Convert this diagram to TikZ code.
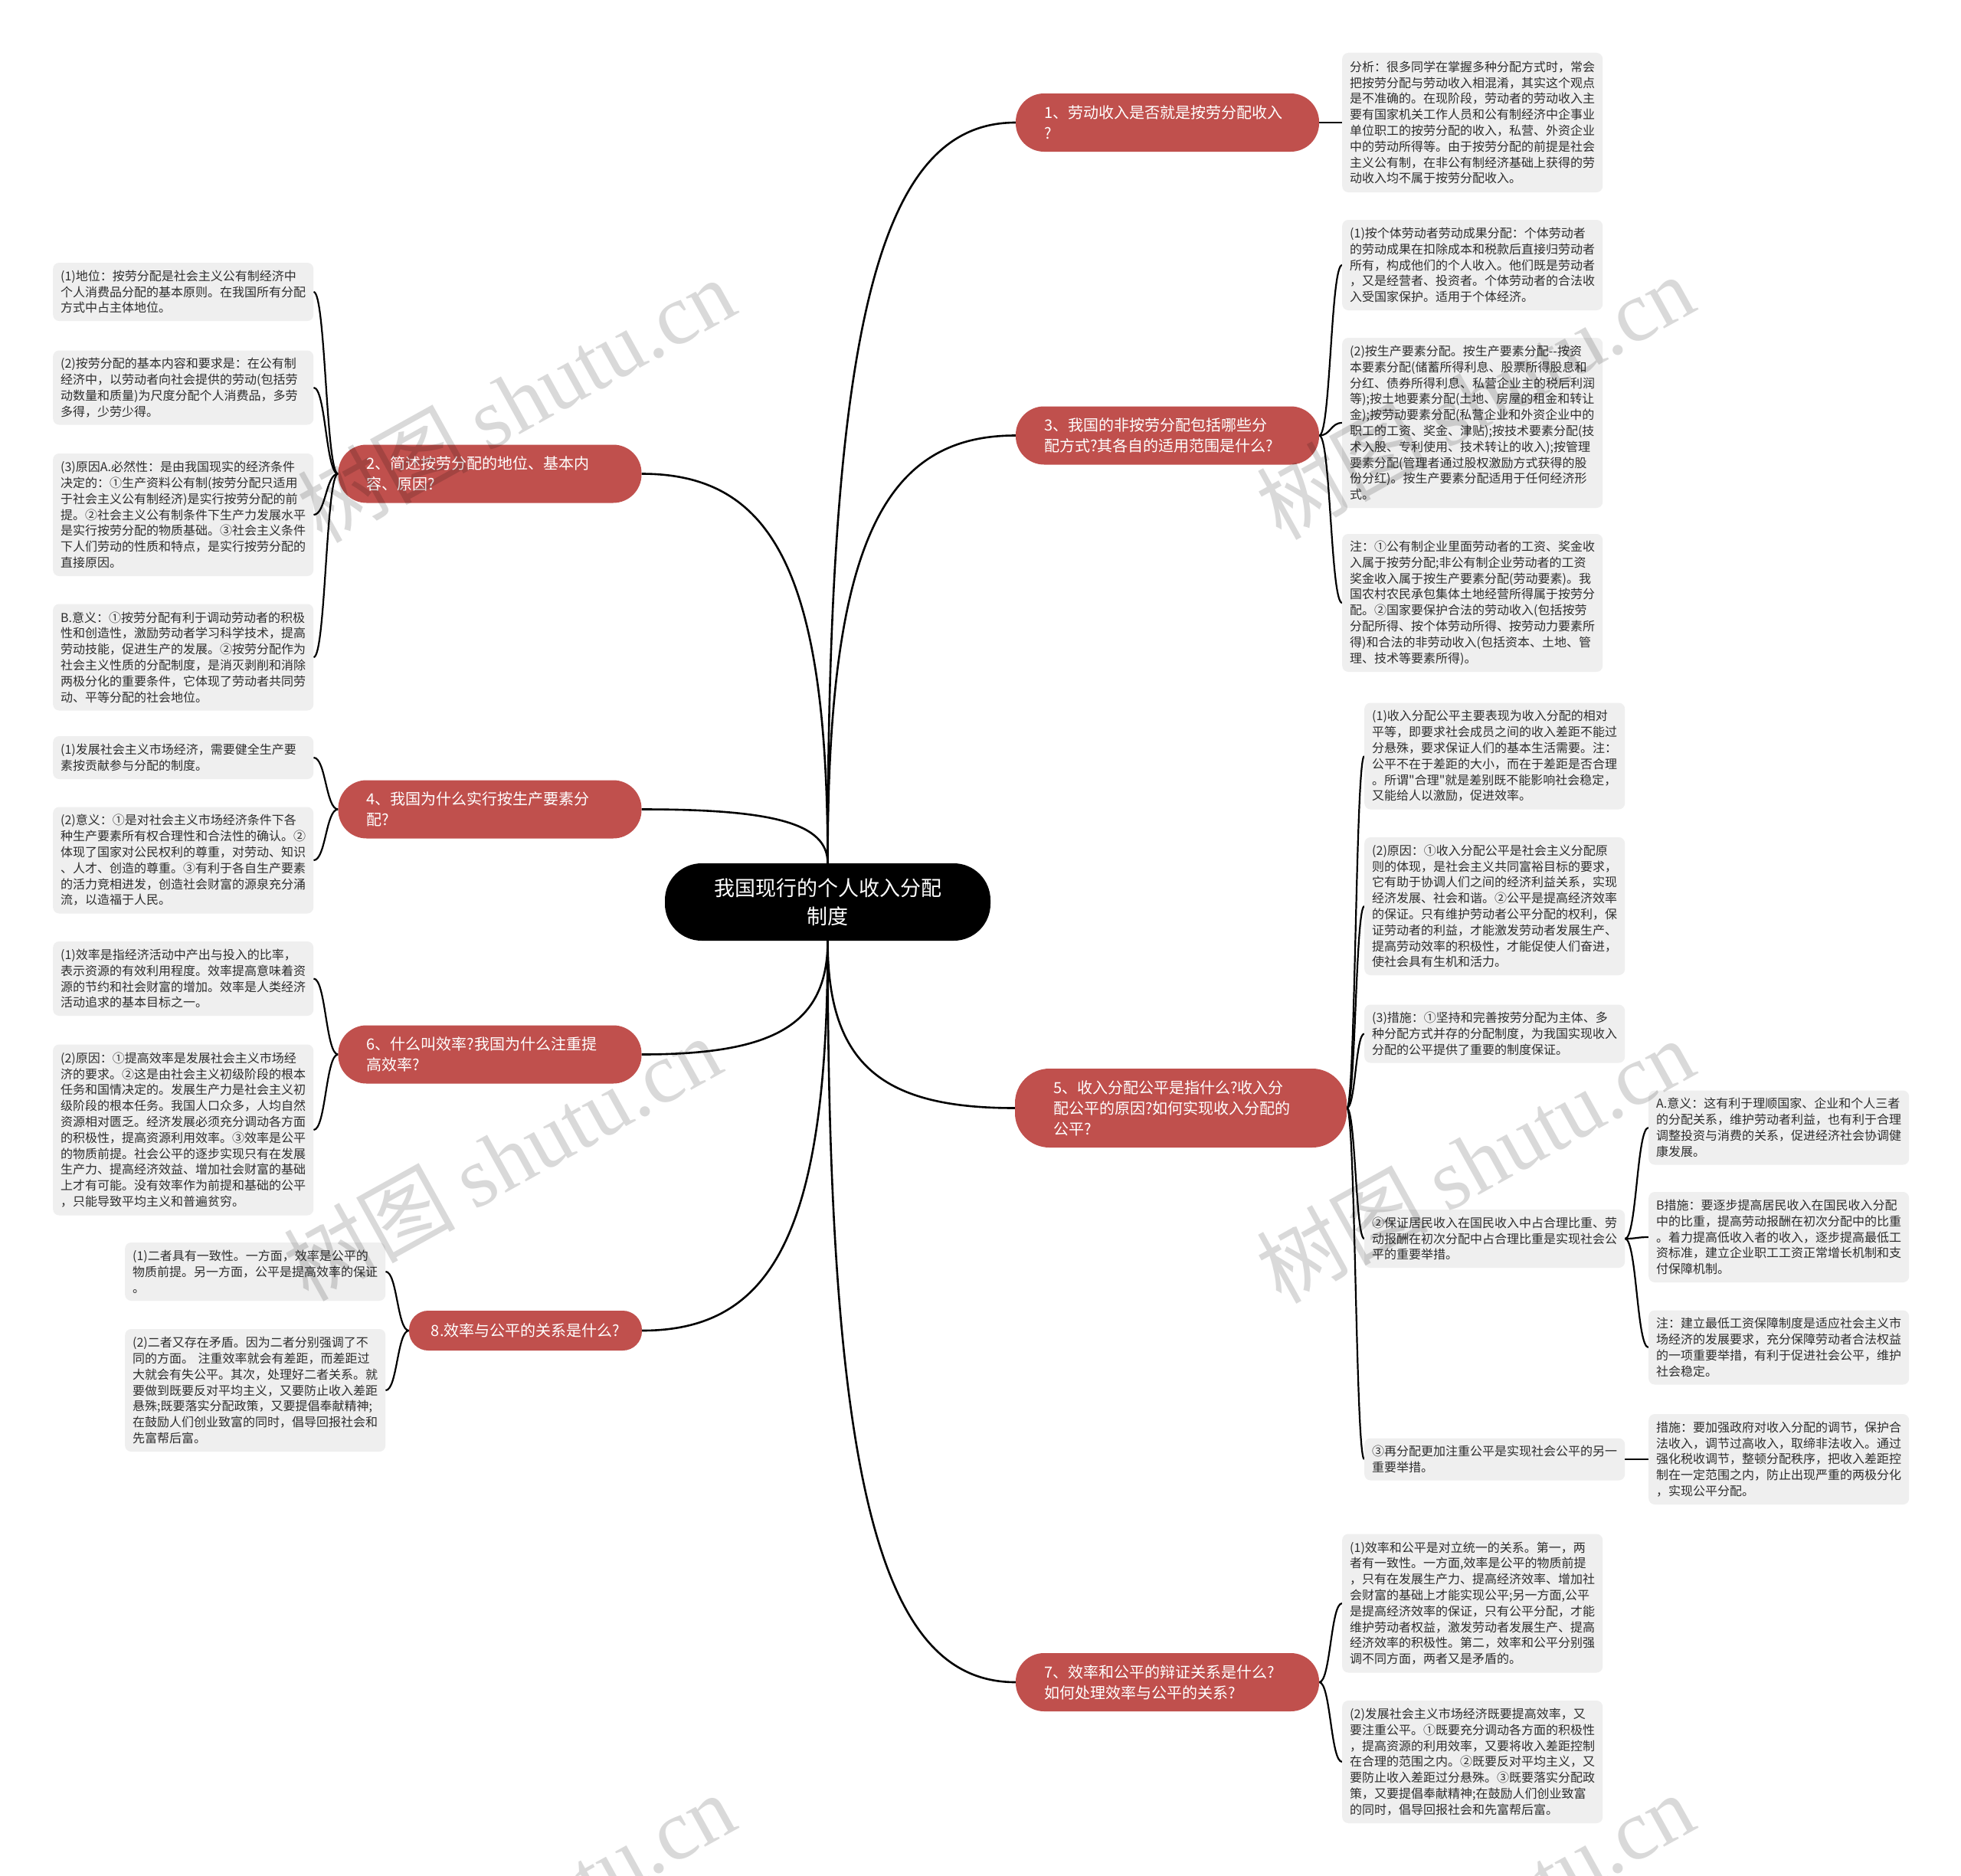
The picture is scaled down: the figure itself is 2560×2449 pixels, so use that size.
\documentclass[tikz,border=0pt]{standalone}
\usepackage{fontspec}
\newfontfamily\cjk{Noto Sans CJK SC}
\newfontfamily\wmserif{Liberation Serif}
\usetikzlibrary{calc}
\pgfdeclarelayer{bg}
\pgfsetlayers{bg,main}
\definecolor{branchred}{RGB}{192,80,77}
\definecolor{leafgray}{RGB}{239,239,239}
\definecolor{leaftext}{RGB}{45,45,45}
\tikzset{
  leafbox/.style={fill=leafgray, rounded corners=8pt, text=leaftext,
    font=\cjk\fontsize{16}{20.8}\selectfont,
    align=left, text width=320pt, inner xsep=10pt, inner ysep=7pt,
    minimum width=340pt, anchor=west},
  branchbox/.style={fill=branchred, text=white, rounded corners=37pt,
    font=\cjk\fontsize{20}{27}\selectfont, align=left, inner xsep=37pt, inner ysep=4pt,
    minimum width=396pt, minimum height=76pt, text width=322pt},
  rootbox/.style={fill=black, text=white, rounded corners=48pt,
    font=\cjk\fontsize{27}{37}\selectfont, align=center,
    minimum width=425pt, minimum height=101pt},
  mainline/.style={draw=black, line width=2.6pt},
  leafline/.style={draw=black, line width=2.2pt},
  wmark/.style={rotate=29, text=black, text opacity=0.15, inner sep=0pt,
    font=\cjk\fontsize{112}{112}\selectfont}
}
\newcommand\mk[2]{\draw[mainline] let \p1=(#1), \p2=(#2) in (\p1) .. controls (\x1,{\y2+0.25*(\y1-\y2)}) and ({\x1+0.3*(\x2-\x1)},\y2) .. (\p2);}
\newcommand\lk[2]{\draw[leafline] let \p1=(#1), \p2=(#2) in (\p1) .. controls ({0.5*(\x1+\x2)},\y1) and ({0.5*(\x1+\x2)},\y2) .. (\p2);}
\begin{document}
\begin{tikzpicture}[x=1pt,y=-1pt]
\useasboundingbox (0,0) rectangle (2560,2449);
\begin{pgfonlayer}{bg}
\fill[white] (0,0) rectangle (2560,2449);
\end{pgfonlayer}

% root
\node[rootbox] (c) at (1080.5,1177.5) {我国现行的个人收入分配\\制度};

% branches
\node[branchbox] (b1) at (1524,160) {1、劳动收入是否就是按劳分配收入\\?};
\node[branchbox] (b2) at (639.5,618.5) {2、简述按劳分配的地位、基本内\\容、原因?};
\node[branchbox] (b3) at (1524,568.5) {3、我国的非按劳分配包括哪些分\\配方式?其各自的适用范围是什么?};
\node[branchbox] (b4) at (639.5,1056.5) {4、我国为什么实行按生产要素分\\配?};
\node[branchbox, minimum width=433pt, minimum height=103pt, text width=333pt, inner xsep=50pt, rounded corners=45pt] (b5) at (1541.5,1446.5) {5、收入分配公平是指什么?收入分\\配公平的原因?如何实现收入分配的\\公平?};
\node[branchbox] (b6) at (639.5,1376.5) {6、什么叫效率?我国为什么注重提\\高效率?};
\node[branchbox] (b7) at (1524,2196) {7、效率和公平的辩证关系是什么?\\如何处理效率与公平的关系?};
\node[branchbox, minimum width=304pt, minimum height=52pt, text width=266pt, inner xsep=19pt, align=center, rounded corners=25pt] (b8) at (686,1737) {8.效率与公平的关系是什么?};

% right leaves
\node[leafbox, minimum height=182pt] (r1) at (1752,160) {分析：很多同学在掌握多种分配方式时，常会\\把按劳分配与劳动收入相混淆，其实这个观点\\是不准确的。在现阶段，劳动者的劳动收入主\\要有国家机关工作人员和公有制经济中企事业\\单位职工的按劳分配的收入，私营、外资企业\\中的劳动所得等。由于按劳分配的前提是社会\\主义公有制，在非公有制经济基础上获得的劳\\动收入均不属于按劳分配收入。};
\node[leafbox, minimum height=118pt] (r3a) at (1752,346) {(1)按个体劳动者劳动成果分配：个体劳动者\\的劳动成果在扣除成本和税款后直接归劳动者\\所有，构成他们的个人收入。他们既是劳动者\\，又是经营者、投资者。个体劳动者的合法收\\入受国家保护。适用于个体经济。};
\node[leafbox, minimum height=222pt] (r3b) at (1752,552) {(2)按生产要素分配。按生产要素分配\mbox{-{}-}按资\\本要素分配(储蓄所得利息、股票所得股息和\\分红、债券所得利息、私营企业主的税后利润\\等);按土地要素分配(土地、房屋的租金和转让\\金);按劳动要素分配(私营企业和外资企业中的\\职工的工资、奖金、津贴);按技术要素分配(技\\术入股、专利使用、技术转让的收入);按管理\\要素分配(管理者通过股权激励方式获得的股\\份分红)。按生产要素分配适用于任何经济形\\式。};
\node[leafbox, minimum height=180pt] (r3c) at (1752,787) {注：①公有制企业里面劳动者的工资、奖金收\\入属于按劳分配;非公有制企业劳动者的工资\\奖金收入属于按生产要素分配(劳动要素)。我\\国农村农民承包集体土地经营所得属于按劳分\\配。②国家要保护合法的劳动收入(包括按劳\\分配所得、按个体劳动所得、按劳动力要素所\\得)和合法的非劳动收入(包括资本、土地、管\\理、技术等要素所得)。};

\node[leafbox, minimum height=139pt] (r5a) at (1781,987) {(1)收入分配公平主要表现为收入分配的相对\\平等，即要求社会成员之间的收入差距不能过\\分悬殊，要求保证人们的基本生活需要。注：\\公平不在于差距的大小，而在于差距是否合理\\。所谓"合理"就是差别既不能影响社会稳定，\\又能给人以激励，促进效率。};
\node[leafbox, minimum height=180pt] (r5b) at (1781,1183) {(2)原因：①收入分配公平是社会主义分配原\\则的体现，是社会主义共同富裕目标的要求，\\它有助于协调人们之间的经济利益关系，实现\\经济发展、社会和谐。②公平是提高经济效率\\的保证。只有维护劳动者公平分配的权利，保\\证劳动者的利益，才能激发劳动者发展生产、\\提高劳动效率的积极性，才能促使人们奋进，\\使社会具有生机和活力。};
\node[leafbox, minimum height=76pt] (r5c) at (1781,1349.5) {(3)措施：①坚持和完善按劳分配为主体、多\\种分配方式并存的分配制度，为我国实现收入\\分配的公平提供了重要的制度保证。};
\node[leafbox, minimum height=76pt] (r5d) at (1781,1617) {②保证居民收入在国民收入中占合理比重、劳\\动报酬在初次分配中占合理比重是实现社会公\\平的重要举措。};
\node[leafbox, minimum height=55pt] (r5e) at (1781,1905) {③再分配更加注重公平是实现社会公平的另一\\重要举措。};

\node[leafbox, minimum height=97pt] (fa) at (2152,1472) {A.意义：这有利于理顺国家、企业和个人三者\\的分配关系，维护劳动者利益，也有利于合理\\调整投资与消费的关系，促进经济社会协调健\\康发展。};
\node[leafbox, minimum height=118pt] (fb) at (2152,1615) {B措施：要逐步提高居民收入在国民收入分配\\中的比重，提高劳动报酬在初次分配中的比重\\。着力提高低收入者的收入，逐步提高最低工\\资标准，建立企业职工工资正常增长机制和支\\付保障机制。};
\node[leafbox, minimum height=97pt] (fc) at (2152,1759) {注：建立最低工资保障制度是适应社会主义市\\场经济的发展要求，充分保障劳动者合法权益\\的一项重要举措，有利于促进社会公平，维护\\社会稳定。};
\node[leafbox, minimum height=118pt] (fd) at (2152,1905) {措施：要加强政府对收入分配的调节，保护合\\法收入，调节过高收入，取缔非法收入。通过\\强化税收调节，整顿分配秩序，把收入差距控\\制在一定范围之内，防止出现严重的两极分化\\，实现公平分配。};

\node[leafbox, minimum height=181pt] (r7a) at (1752,2093) {(1)效率和公平是对立统一的关系。第一，两\\者有一致性。一方面,效率是公平的物质前提\\，只有在发展生产力、提高经济效率、增加社\\会财富的基础上才能实现公平;另一方面,公平\\是提高经济效率的保证，只有公平分配，才能\\维护劳动者权益，激发劳动者发展生产、提高\\经济效率的积极性。第二，效率和公平分别强\\调不同方面，两者又是矛盾的。};
\node[leafbox, minimum height=160pt] (r7b) at (1752,2300) {(2)发展社会主义市场经济既要提高效率，又\\要注重公平。①既要充分调动各方面的积极性\\，提高资源的利用效率，又要将收入差距控制\\在合理的范围之内。②既要反对平均主义，又\\要防止收入差距过分悬殊。③既要落实分配政\\策，又要提倡奉献精神;在鼓励人们创业致富\\的同时，倡导回报社会和先富帮后富。};

% left leaves
\node[leafbox, minimum height=76pt] (l2a) at (69,381) {(1)地位：按劳分配是社会主义公有制经济中\\个人消费品分配的基本原则。在我国所有分配\\方式中占主体地位。};
\node[leafbox, minimum height=97pt] (l2b) at (69,506) {(2)按劳分配的基本内容和要求是：在公有制\\经济中，以劳动者向社会提供的劳动(包括劳\\动数量和质量)为尺度分配个人消费品，多劳\\多得，少劳少得。};
\node[leafbox, minimum height=160pt] (l2c) at (69,672) {(3)原因A.必然性：是由我国现实的经济条件\\决定的：①生产资料公有制(按劳分配只适用\\于社会主义公有制经济)是实行按劳分配的前\\提。②社会主义公有制条件下生产力发展水平\\是实行按劳分配的物质基础。③社会主义条件\\下人们劳动的性质和特点，是实行按劳分配的\\直接原因。};
\node[leafbox, minimum height=139pt] (l2d) at (69,858) {B.意义：①按劳分配有利于调动劳动者的积极\\性和创造性，激励劳动者学习科学技术，提高\\劳动技能，促进生产的发展。②按劳分配作为\\社会主义性质的分配制度，是消灭剥削和消除\\两极分化的重要条件，它体现了劳动者共同劳\\动、平等分配的社会地位。};
\node[leafbox, minimum height=56pt] (l4a) at (69,989) {(1)发展社会主义市场经济，需要健全生产要\\素按贡献参与分配的制度。};
\node[leafbox, minimum height=139pt] (l4b) at (69,1123) {(2)意义：①是对社会主义市场经济条件下各\\种生产要素所有权合理性和合法性的确认。②\\体现了国家对公民权利的尊重，对劳动、知识\\、人才、创造的尊重。③有利于各自生产要素\\的活力竞相进发，创造社会财富的源泉充分涌\\流，以造福于人民。};
\node[leafbox, minimum height=97pt] (l6a) at (69,1277.5) {(1)效率是指经济活动中产出与投入的比率，\\表示资源的有效利用程度。效率提高意味着资\\源的节约和社会财富的增加。效率是人类经济\\活动追求的基本目标之一。};
\node[leafbox, minimum height=223pt] (l6b) at (69,1475) {(2)原因：①提高效率是发展社会主义市场经\\济的要求。②这是由社会主义初级阶段的根本\\任务和国情决定的。发展生产力是社会主义初\\级阶段的根本任务。我国人口众多，人均自然\\资源相对匮乏。经济发展必须充分调动各方面\\的积极性，提高资源利用效率。③效率是公平\\的物质前提。社会公平的逐步实现只有在发展\\生产力、提高经济效益、增加社会财富的基础\\上才有可能。没有效率作为前提和基础的公平\\，只能导致平均主义和普遍贫穷。};
\node[leafbox, minimum height=76pt] (l8a) at (163,1660) {(1)二者具有一致性。一方面，效率是公平的\\物质前提。另一方面，公平是提高效率的保证\\。};
\node[leafbox, minimum height=160pt] (l8b) at (163,1815) {(2)二者又存在矛盾。因为二者分别强调了不\\同的方面。~注重效率就会有差距，而差距过\\大就会有失公平。其次，处理好二者关系。就\\要做到既要反对平均主义，又要防止收入差距\\悬殊;既要落实分配政策，又要提倡奉献精神;\\在鼓励人们创业致富的同时，倡导回报社会和\\先富帮后富。};

% connectors (behind nodes)
\begin{pgfonlayer}{bg}
\mk{c.north}{b1.west}
\mk{c.north}{b3.west}
\mk{c.south}{b5.west}
\mk{c.south}{b7.west}
\mk{c.north}{b2.east}
\mk{c.north}{b4.east}
\mk{c.south}{b6.east}
\mk{c.south}{b8.east}
\lk{b1.east}{r1.west}
\lk{b3.east}{r3a.west}
\lk{b3.east}{r3b.west}
\lk{b3.east}{r3c.west}
\lk{b5.east}{r5a.west}
\lk{b5.east}{r5b.west}
\lk{b5.east}{r5c.west}
\lk{b5.east}{r5d.west}
\lk{b5.east}{r5e.west}
\lk{r5d.east}{fa.west}
\lk{r5d.east}{fb.west}
\lk{r5d.east}{fc.west}
\lk{r5e.east}{fd.west}
\lk{b7.east}{r7a.west}
\lk{b7.east}{r7b.west}
\lk{b2.west}{l2a.east}
\lk{b2.west}{l2b.east}
\lk{b2.west}{l2c.east}
\lk{b2.west}{l2d.east}
\lk{b4.west}{l4a.east}
\lk{b4.west}{l4b.east}
\lk{b6.west}{l6a.east}
\lk{b6.west}{l6b.east}
\lk{b8.west}{l8a.east}
\lk{b8.west}{l8b.east}
\end{pgfonlayer}

% watermarks
\begin{scope}
\clip (0,0) rectangle (2560,2449);
\node[wmark] (wm1) at (673,522) {树图~{\wmserif shutu.cn}};
\node[wmark] (wm2) at (1925,518) {树图~{\wmserif shutu.cn}};
\node[wmark] (wm3) at (655,1512) {树图~{\wmserif shutu.cn}};
\node[wmark] (wm4) at (1925,1515) {树图~{\wmserif shutu.cn}};
\node[wmark] (wm5) at (673,2500) {树图~{\wmserif shutu.cn}};
\node[wmark] (wm6) at (1925,2500) {树图~{\wmserif shutu.cn}};
\end{scope}
\end{tikzpicture}
\end{document}
